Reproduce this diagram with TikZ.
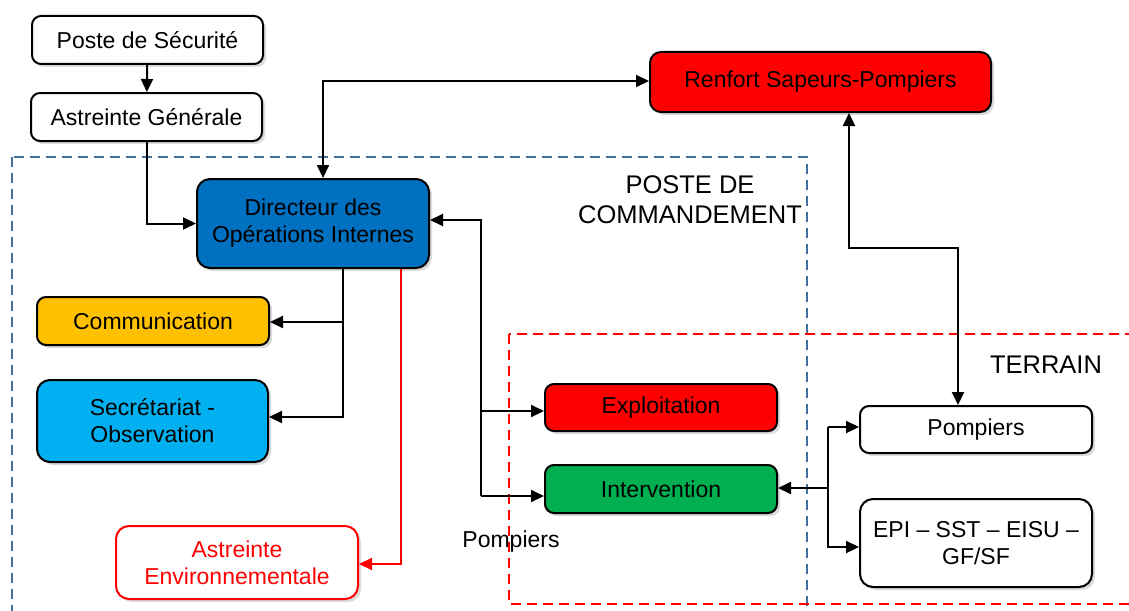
\documentclass[tikz,border=0pt]{standalone}
\usepackage{fontspec}
\setmainfont{Liberation Sans}
\usetikzlibrary{arrows.meta,shadows}
\definecolor{dirblue}{HTML}{0070C0}
\definecolor{comyel}{HTML}{FFC000}
\definecolor{secblue}{HTML}{00B0F0}
\definecolor{intgreen}{HTML}{00B050}
\definecolor{pcblue}{HTML}{41719C}
\tikzset{
  box/.style={draw=black, line width=2pt, rounded corners=9pt, fill=white,
    align=center, inner sep=2pt, font=\fontsize{23}{27}\selectfont,
    drop shadow={opacity=0.28, shadow xshift=3pt, shadow yshift=-3pt}},
  conn/.style={line width=2pt, draw=black},
  arr/.style={conn, -{Triangle[length=13pt,width=12pt]}},
  arrb/.style={conn, {Triangle[length=13pt,width=12pt]}-{Triangle[length=13pt,width=12pt]}},
  redarr/.style={line width=2pt, draw=red, -{Triangle[length=13pt,width=12pt]}},
  zone/.style={line width=1.8pt, dash pattern=on 10pt off 6pt},
  lbl/.style={font=\fontsize{25.5}{30}\selectfont, align=center, inner sep=0pt}
}
\begin{document}
\begin{tikzpicture}[x=1pt,y=-1pt]
\clip (0,0) rectangle (1129,610);
\fill[white] (0,0) rectangle (1129,610);

% zones
\draw[zone, draw=pcblue] (12,157) rectangle (807,640);
\draw[zone, draw=red] (509,334) rectangle (1160,604);

\node[lbl] (pc) at (690,200) {POSTE DE\\COMMANDEMENT};
\node[lbl] (ter) at (1046,365) {TERRAIN};

% nodes
\node[box, minimum width=231pt, minimum height=48pt] (ps) at (147.5,40) {Poste de Sécurité};
\node[box, minimum width=231pt, minimum height=48pt] (ag) at (146.5,117) {Astreinte Générale};
\node[box, fill=red, minimum width=341pt, minimum height=60pt, rounded corners=11pt] (ren) at (820.5,82) {Renfort Sapeurs-Pompiers};
\node[box, fill=dirblue, minimum width=232pt, minimum height=89pt, rounded corners=13pt] (dir) at (313,223.5) {Directeur des\\Opérations Internes};
\node[box, fill=comyel, minimum width=232pt, minimum height=48pt] (com) at (153,321) {Communication};
\node[box, fill=secblue, minimum width=231pt, minimum height=82pt, rounded corners=13pt] (sec) at (152.5,421) {Secrétariat -\\Observation};
\node[box, draw=red, text=red, minimum width=242pt, minimum height=73pt, rounded corners=13pt] (aenv) at (237,562.5) {Astreinte\\Environnementale};
\node[box, fill=red, minimum width=232pt, minimum height=47pt] (expl) at (661,407.5) {Exploitation};
\node[box, fill=intgreen, minimum width=232pt, minimum height=48pt] (int) at (661,489) {Intervention};
\node[box, minimum width=232pt, minimum height=47pt] (pomp) at (976,429.5) {Pompiers};
\node[box, minimum width=232pt, minimum height=88pt, rounded corners=13pt] (epi) at (976,543) {EPI – SST – EISU –\\GF/SF};
\node[font=\fontsize{23}{27}\selectfont, inner sep=0pt] (plbl) at (511,542) {Pompiers};

% coordinates
\coordinate (t1) at (323,81);
\coordinate (c1) at (849,248);
\coordinate (c2) at (958,248);
\coordinate (d1) at (343,322);
\coordinate (d2) at (343,417);
\coordinate (r1) at (401,564);
\coordinate (v1) at (481,220);
\coordinate (v2) at (481,411);
\coordinate (v3) at (481,496);
\coordinate (b0) at (828,488);
\coordinate (b1) at (828,427);
\coordinate (b2) at (828,547);

% connectors
\draw[arr] (ps) -- (ag);
\draw[arr] (ag.south) |- (dir.west);
\draw[arrb] (dir.north -| t1) -- (t1) -- (ren.west |- t1);
\draw[arrb] (ren.south -| c1) -- (c1) -- (c2) -- (pomp.north -| c2);
\draw[arr] (dir.south -| d1) -- (d2) -- (sec.east |- d2);
\draw[arr] (d1) -- (com.east |- d1);
\draw[redarr] (dir.south -| r1) -- (r1) -- (aenv.east |- r1);
\draw[arr] (v3) -- (v1) -- (dir.east |- v1);
\draw[arr] (v2) -- (expl.west |- v2);
\draw[arr] (v3) -- (int.west |- v3);
\draw[arr] (b0) -- (int.east |- b0);
\draw[arr] (b1) -- (b2) -- (epi.west |- b2);
\draw[arr] (b1) -- (pomp.west |- b1);
\end{tikzpicture}
\end{document}
